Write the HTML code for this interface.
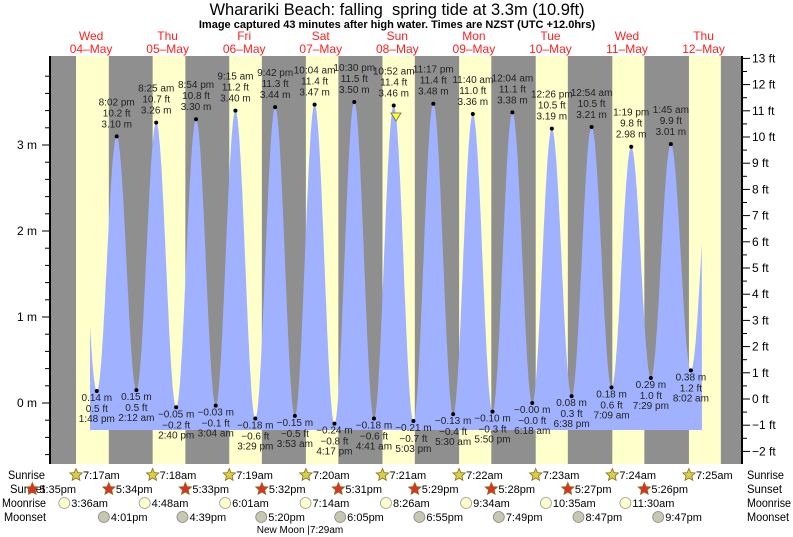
<!DOCTYPE html>
<html><head><meta charset="utf-8"><style>
html,body{margin:0;padding:0;background:#fff;}
svg{display:block;font-family:"Liberation Sans",sans-serif;}
</style></head><body>
<svg id="s" width="793" height="537" xmlns="http://www.w3.org/2000/svg"></svg>
<script>
const S=document.getElementById('s');let h='';
const X=t=>52.8+t*3.19, Y=m=>403-m*86;
const L=50,R=742,T=56,B=464;
h+=`<rect x="${L}" y="${T}" width="${R-L}" height="${B-T}" fill="#8f8f8f"/>`;
const sr=[17,18,19,20,21,22,23,24,25], ss=[34,33,32,31,29,28,27,26,25];
for(let k=0;k<9;k++){const a=X(24*k+7+sr[k]/60),b=Math.min(R,X(24*k+17+ss[k]/60));h+=`<rect x="${a}" y="${T}" width="${b-a}" height="${B-T}" fill="#ffffcc"/>`;}
const D=[
[13.8,0.14,'1:48 pm','0.5 ft','0.14 m'],[20.03,3.10,'8:02 pm','10.2 ft','3.10 m'],
[26.2,0.15,'2:12 am','0.5 ft','0.15 m'],[32.42,3.26,'8:25 am','10.7 ft','3.26 m'],
[38.67,-0.05,'2:40 pm','−0.2 ft','−0.05 m'],[44.9,3.30,'8:54 pm','10.8 ft','3.30 m'],
[51.07,-0.03,'3:04 am','−0.1 ft','−0.03 m'],[57.25,3.40,'9:15 am','11.2 ft','3.40 m'],
[63.48,-0.18,'3:29 pm','−0.6 ft','−0.18 m'],[69.7,3.44,'9:42 pm','11.3 ft','3.44 m'],
[75.88,-0.15,'3:53 am','−0.5 ft','−0.15 m'],[82.07,3.47,'10:04 am','11.4 ft','3.47 m'],
[88.28,-0.24,'4:17 pm','−0.8 ft','−0.24 m'],[94.5,3.50,'10:30 pm','11.5 ft','3.50 m'],
[100.68,-0.18,'4:41 am','−0.6 ft','−0.18 m'],[106.87,3.46,'10:52 am','11.4 ft','3.46 m'],
[113.05,-0.21,'5:03 pm','−0.7 ft','−0.21 m'],[119.28,3.48,'11:17 pm','11.4 ft','3.48 m'],
[125.5,-0.13,'5:30 am','−0.4 ft','−0.13 m'],[131.67,3.36,'11:40 am','11.0 ft','3.36 m'],
[137.83,-0.10,'5:50 pm','−0.3 ft','−0.10 m'],[144.07,3.38,'12:04 am','11.1 ft','3.38 m'],
[150.3,-0.00,'6:18 am','−0.0 ft','−0.00 m'],[156.43,3.19,'12:26 pm','10.5 ft','3.19 m'],
[162.63,0.08,'6:38 pm','0.3 ft','0.08 m'],[168.9,3.21,'12:54 am','10.5 ft','3.21 m'],
[175.15,0.18,'7:09 am','0.6 ft','0.18 m'],[181.32,2.98,'1:19 pm','9.8 ft','2.98 m'],
[187.48,0.29,'7:29 pm','1.0 ft','0.29 m'],[193.75,3.01,'1:45 am','9.9 ft','3.01 m'],
[200.03,0.38,'8:02 am','1.2 ft','0.38 m']];
const P=[[7.6,3.0],...D.map(d=>[d[0],d[1]]),[206.3,2.95]];
const t0=11.66,t1=203.5;let pts=[];
for(let t=t0;t<=t1;t+=0.1){let i=0;while(P[i+1][0]<t)i++;const[a,ha]=P[i],[b,hb]=P[i+1];const f=(t-a)/(b-a);const v=ha+(hb-ha)*(1-Math.cos(Math.PI*f))/2;pts.push(X(t).toFixed(1)+','+Y(v).toFixed(1));}
h+=`<polygon points="${X(t0)},430 ${pts.join(' ')} ${X(t1)},430" fill="#a0b2ff"/>`;
D.forEach((d,i)=>{const x=X(d[0]),y=Y(d[1]);h+=`<circle cx="${x}" cy="${y}" r="2" fill="#000"/>`;
const st=`font-size="10" text-anchor="middle" fill="#222"`;
if(d[1]>1){h+=`<text x="${x}" y="${y-31}" ${st}>${d[2]}</text><text x="${x}" y="${y-20}" ${st}>${d[3]}</text><text x="${x}" y="${y-9}" ${st}>${d[4]}</text>`;}
else{h+=`<text x="${x}" y="${y+10}" ${st}>${d[4]}</text><text x="${x}" y="${y+21}" ${st}>${d[3]}</text><text x="${x}" y="${y+31}" ${st}>${d[2]}</text>`;}});
h+=`<polygon points="391,113 401,113 396,121" fill="#ffff33" stroke="#666" stroke-width="0.8"/>`;
h+=`<line x1="${L}" y1="${T}" x2="${L}" y2="${B}" stroke="#000" stroke-width="2"/><line x1="${R}" y1="${T}" x2="${R}" y2="${B}" stroke="#000" stroke-width="2"/>`;
for(let m=-0.6;m<=4.0;m+=0.2){const y=Y(m);if(y<T||y>B)continue;const maj=Math.abs(m-Math.round(m))<0.01;h+=`<line x1="${L-(maj?8:5)}" y1="${y}" x2="${L}" y2="${y}" stroke="#000"/>`;if(maj)h+=`<text x="37" y="${y+4}" font-size="12" text-anchor="end">${Math.round(m)} m</text>`;}
for(let f=-2.5;f<=13.5;f+=0.5){const y=399-f*26.2;if(y<T||y>B)continue;const maj=f%1===0;h+=`<line x1="${R}" y1="${y}" x2="${R+(maj?8:5)}" y2="${y}" stroke="#000"/>`;if(maj)h+=`<text x="752" y="${y+4}" font-size="12">${f<0?'−'+(-f):f} ft</text>`;}
h+=`<text x="397" y="15" font-size="16.5" text-anchor="middle">Wharariki Beach: falling&#160; spring tide at 3.3m (10.9ft)</text>`;
h+=`<text x="397" y="28" font-size="11" font-weight="bold" text-anchor="middle">Image captured 43 minutes after high water. Times are NZST (UTC +12.0hrs)</text>`;
const dn=['Wed','Thu','Fri','Sat','Sun','Mon','Tue','Wed','Thu'];
for(let k=0;k<9;k++){const x=X(24*k+12);h+=`<text x="${x}" y="40" font-size="12" fill="#ff2020" text-anchor="middle">${dn[k]}</text><text x="${x}" y="53" font-size="12" fill="#ff2020" text-anchor="middle">${String(4+k).padStart(2,'0')}–May</text>`;}
const lab=['Sunrise','Sunset','Moonrise','Moonset'],ry=[475,489,503,517],lx=[8,10,2,4],lw=[37,35,44,42];
lab.forEach((s,i)=>{h+=`<text x="${lx[i]}" y="${ry[i]+4}" font-size="12" textLength="${lw[i]}" lengthAdjust="spacingAndGlyphs">${s}</text><text x="747" y="${ry[i]+4}" font-size="12" textLength="${lw[i]}" lengthAdjust="spacingAndGlyphs">${s}</text>`;});
function star(x,y,c){let p=[];for(let i=0;i<10;i++){const r=i%2?3:6.5,a=-Math.PI/2+i*Math.PI/5;p.push((x+r*Math.cos(a)).toFixed(1)+','+(y+r*Math.sin(a)).toFixed(1));}return `<polygon points="${p.join(' ')}" fill="${c}" stroke="#8a6a20" stroke-width="0.8"/>`;}
for(let k=0;k<9;k++){const x=X(24*k+7+sr[k]/60);h+=star(x,475,'#d8d040')+`<text x="${x+7}" y="479" font-size="11">7:${sr[k]}am</text>`;}
const ssl=[35,34,33,32,31,29,28,27,26];
for(let k=0;k<9;k++){const x=X(24*(k-1)+17+ssl[k]/60);h+=star(x,489,'#e03020')+`<text x="${x+7}" y="493" font-size="11">5:${ssl[k]}pm</text>`;}
const mr=[[3,36],[4,48],[6,1],[7,14],[8,26],[9,34],[10,35],[11,30]];
mr.forEach((m,k)=>{const x=X(24*k+m[0]+m[1]/60);h+=`<circle cx="${x}" cy="503" r="5.5" fill="#ffffcc" stroke="#999" stroke-width="0.8"/><text x="${x+7}" y="507" font-size="11">${m[0]}:${String(m[1]).padStart(2,'0')}am</text>`;});
const ms=[[4,1],[4,39],[5,20],[6,5],[6,55],[7,49],[8,47],[9,47]];
ms.forEach((m,k)=>{const x=X(24*k+12+m[0]+m[1]/60);h+=`<circle cx="${x}" cy="517" r="5.5" fill="#c8c8b0" stroke="#888" stroke-width="0.8"/><text x="${x+7}" y="521" font-size="11">${m[0]}:${String(m[1]).padStart(2,'0')}pm</text>`;});
h+=`<text x="300" y="533" font-size="10" text-anchor="middle">New Moon |7:29am</text>`;
S.innerHTML=h;
</script>
</body></html>
